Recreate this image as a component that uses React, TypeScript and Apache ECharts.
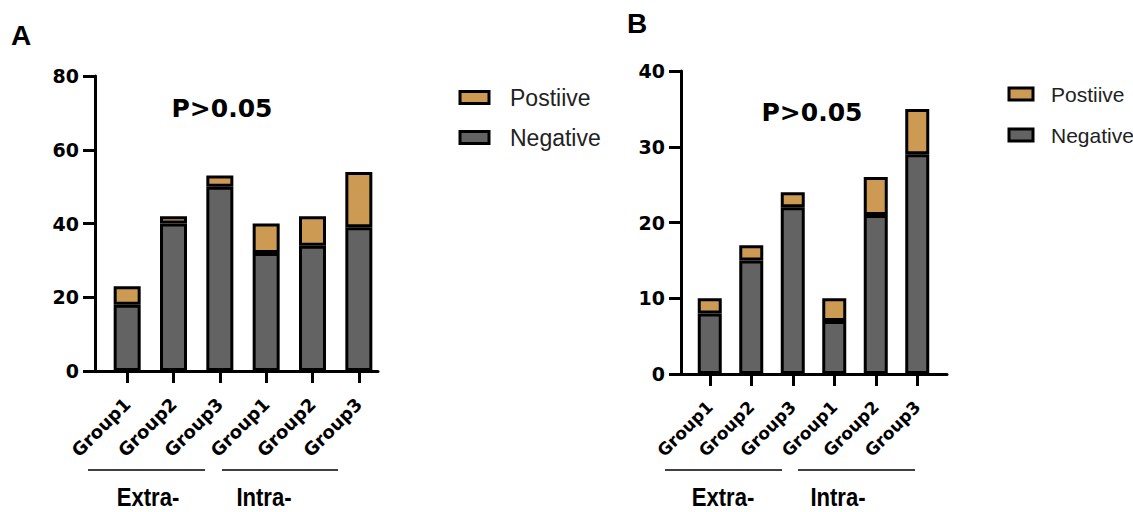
import React, { useEffect, useRef } from "react";
import * as echarts from "echarts";

const groups = ["Group1", "Group2", "Group3", "Group1", "Group2", "Group3"];
const aNegative = [18, 40, 50, 32, 34, 39];
const aPositive = [5, 2, 3, 8, 8, 15];
const bNegative = [8, 15, 22, 7, 21, 29];
const bPositive = [2, 2, 2, 3, 5, 6];
const aTicks = { min: 0, max: 80, interval: 20 };
const bTicks = { min: 0, max: 40, interval: 10 };
const legendNames = ["Postiive", "Negative"];
const panelTitles = ["A", "B"];
const pText = "P>0.05";
const sourceLabels = ["Extra-", "Intra-"];

const TAN = "#CC9A52";
const GRAY = "#636363";
const NUM_FONT = "DejaVu Sans";

function yAxisCfg(grid: number, t: { min: number; max: number; interval: number }, offset: number) {
  return {
    type: "value",
    gridIndex: grid,
    min: t.min,
    max: t.max,
    interval: t.interval,
    offset,
    axisLine: { show: true, lineStyle: { color: "#000", width: 3 } },
    axisTick: { show: true, length: 12, lineStyle: { color: "#000", width: 3 } },
    axisLabel: { margin: 16, color: "#000", fontFamily: NUM_FONT, fontWeight: "bold", fontSize: 19 },
    splitLine: { show: false },
  };
}

function xAxisCfg(grid: number, size: number) {
  return {
    type: "category",
    gridIndex: grid,
    data: groups,
    axisLine: { show: false },
    axisTick: { show: true, alignWithLabel: true, length: 12, lineStyle: { color: "#000", width: 3 } },
    axisLabel: {
      interval: 0,
      rotate: 45,
      margin: 30,
      color: "#000",
      fontFamily: NUM_FONT,
      fontWeight: "bold",
      fontSize: size,
    },
  };
}

function baseX(grid: number) {
  return {
    type: "value",
    gridIndex: grid,
    min: 0,
    max: 1,
    axisLine: { show: true, lineStyle: { color: "#000", width: 3 } },
    axisTick: { show: false },
    axisLabel: { show: false },
    splitLine: { show: false },
  };
}
function baseY(grid: number) {
  return { type: "value", gridIndex: grid, min: 0, max: 1, show: false };
}

function barSeries(name: string, data: number[], color: string, axisIdx: number, stack: string, width: number) {
  return {
    type: "bar",
    name,
    data,
    stack,
    xAxisIndex: axisIdx,
    yAxisIndex: axisIdx,
    barWidth: width,
    itemStyle: { color, borderColor: "#000", borderWidth: 3 },
  };
}

function legendCfg(left: number, top: number, iw: number, fs: number, gap: number, pad: number) {
  return {
    data: legendNames,
    orient: "vertical",
    left,
    top,
    padding: 0,
    itemWidth: iw,
    itemHeight: 12,
    itemGap: gap,
    icon: "rect",
    itemStyle: { borderColor: "#000", borderWidth: 3 },
    textStyle: { fontFamily: "Liberation Sans", fontSize: fs, color: "#222", lineHeight: fs + 2, padding: [0, 0, 0, pad] },
    selectedMode: false,
  };
}

function txt(text: string, x: number, y: number, size: number, font: string, scaleX = 1) {
  return {
    type: "text",
    x,
    y,
    scaleX,
    style: {
      text,
      fill: "#000",
      font: `bold ${size}px "${font}"`,
      textAlign: "center",
      textVerticalAlign: "middle",
    },
  };
}

function ln(x1: number, x2: number, y: number) {
  return {
    type: "line",
    shape: { x1, y1: y, x2, y2: y },
    style: { stroke: "#000", lineWidth: 1.5 },
  };
}

export default function App() {
  const ref = useRef<HTMLDivElement>(null);
  useEffect(() => {
    document.body.style.margin = "0";
    if (!ref.current) return;
    const chart = echarts.init(ref.current, null, { renderer: "svg" });
    chart.setOption({
      animation: false,
      backgroundColor: "#fff",
      grid: [
        { left: 104, top: 76, width: 278, height: 295 },
        { left: 95, top: 76, width: 283, height: 295 },
        { left: 689, top: 71, width: 249, height: 303 },
        { left: 681, top: 71, width: 266, height: 303 },
      ],
      xAxis: [xAxisCfg(0, 18), baseX(1), xAxisCfg(2, 17), baseX(3)],
      yAxis: [yAxisCfg(0, aTicks, 9), baseY(1), yAxisCfg(2, bTicks, 8), baseY(3)],
      legend: [legendCfg(458.5, 85, 29, 23, 15, 16), legendCfg(1007.5, 82.5, 24, 21, 18, 13)],
      series: [
        barSeries("Negative", aNegative, GRAY, 0, "a", 27),
        barSeries("Postiive", aPositive, TAN, 0, "a", 27),
        barSeries("Negative", bNegative, GRAY, 2, "b", 24),
        barSeries("Postiive", bPositive, TAN, 2, "b", 24),
      ],
      graphic: [
        txt(panelTitles[0], 21, 35, 28, "Liberation Sans"),
        txt(panelTitles[1], 637, 23, 28, "Liberation Sans"),
        txt(pText, 222, 108, 25, NUM_FONT),
        txt(pText, 812, 112, 25, NUM_FONT),
        ln(88, 205, 470),
        ln(222, 338, 470),
        ln(665, 782, 470),
        ln(798, 915, 470),
        txt(sourceLabels[0], 148, 497, 26, "Liberation Sans", 0.85),
        txt(sourceLabels[1], 264, 497, 26, "Liberation Sans", 0.85),
        txt(sourceLabels[0], 723, 497, 26, "Liberation Sans", 0.85),
        txt(sourceLabels[1], 838, 497, 26, "Liberation Sans", 0.85),
      ],
    });
    return () => chart.dispose();
  }, []);
  return <div ref={ref} style={{ width: 1133, height: 512 }} />;
}
